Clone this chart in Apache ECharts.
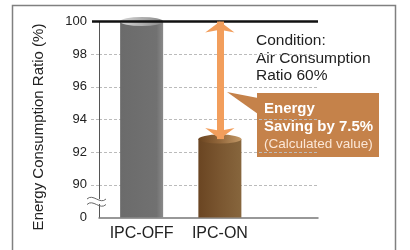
<!DOCTYPE html>
<html><head><meta charset="utf-8">
<script src="https://cdn.jsdelivr.net/npm/echarts@6/dist/echarts.min.js"></script>
<style>html,body{margin:0;padding:0;background:#fff}#c{width:410px;height:250px}</style>
</head><body><div id="c"></div>
<script>
// ---- data ----
const categories = ['IPC-OFF', 'IPC-ON'];
const ratioValues = [100, 92.8];
const yMin = 88, yMax = 100, yStep = 2;
const tickLabels = {88: '0', 90: '90', 92: '92', 94: '94', 96: '96', 98: '98', 100: '100'};
const referenceLevel = 100;
const yAxisTitle = 'Energy Consumption Ratio (%)';
const conditionText = ['Condition:', 'Air Consumption', 'Ratio 60%'];
const savingText = ['Energy', 'Saving by 7.5%', '(Calculated value)'];

// ---- styles ----
const FF = '"Liberation Sans", Arial, Helvetica, sans-serif';
const lg = (stops) => new echarts.graphic.LinearGradient(0, 0, 1, 0, stops.map((c) => ({offset: c[0], color: c[1]})));
const bodyColors = [
  lg([[0, '#6b6b6b'], [0.85, '#717171'], [1, '#8a8a8a']]),
  lg([[0, '#6a4522'], [0.5, '#7a5630'], [1, '#87663d']])
];
const capColors = [
  lg([[0, '#d6d6d6'], [0.6, '#a8a8a8'], [1, '#8a8a8a']]),
  lg([[0, '#6a4420'], [0.5, '#93683c'], [1, '#c49a68']])
];
const dash = [3, 2];
const tilde = (y) => ({type: 'bezierCurve', z: 101,
  shape: {x1: 87, y1: y, x2: 106, y2: y, cpx1: 93, cpy1: y - 6, cpx2: 100, cpy2: y + 6},
  style: {fill: 'none', stroke: '#666', lineWidth: 1}});

const chart = echarts.init(document.getElementById('c'), null, {renderer: 'canvas'});
chart.setOption({
  animation: false,
  grid: [
    {left: 99, top: 21.5, width: 219, height: 196},
    {left: 102.5, top: 21.5, width: 156.5, height: 196}
  ],
  xAxis: [
    {gridIndex: 0, type: 'value', min: 0, max: 1,
     axisLine: {show: true, onZero: false, lineStyle: {color: '#777', width: 1.5}},
     axisTick: {show: false}, axisLabel: {show: false}, splitLine: {show: false}},
    {gridIndex: 1, type: 'category', data: categories,
     axisLine: {show: false}, axisTick: {show: false},
     axisLabel: {interval: 0, fontSize: 16, color: '#222', margin: 8, fontFamily: FF}}
  ],
  yAxis: [
    {gridIndex: 0, type: 'value', min: yMin, max: yMax, interval: yStep,
     axisLine: {show: true, lineStyle: {color: '#555', width: 1}},
     axisTick: {show: true, length: 8, customValues: [90, 92, 94, 96, 98], lineStyle: {color: '#bbb', type: dash}},
     axisLabel: {formatter: v => tickLabels[v], fontSize: 13, color: '#222', margin: 12, fontFamily: FF},
     splitLine: {show: true, lineStyle: {color: '#bbb', type: dash}}},
    {gridIndex: 0, type: 'value', min: yMin, max: yMax, interval: yStep, position: 'left',
     axisLine: {show: false},
     axisTick: {show: true, length: 7, customValues: [referenceLevel], lineStyle: {color: '#111', width: 2.5}},
     axisLabel: {show: false}, splitLine: {show: false}},
    {gridIndex: 1, type: 'value', min: yMin, max: yMax, interval: yStep, show: false}
  ],
  series: [
    {type: 'line', xAxisIndex: 0, yAxisIndex: 0, data: [], z: 1,
     markLine: {silent: true, symbol: 'none', label: {show: false},
       lineStyle: {color: '#111', width: 2.5, type: 'solid'},
       data: [{yAxis: referenceLevel}]}},
    {type: 'bar', xAxisIndex: 1, yAxisIndex: 2, barWidth: 43, z: 2,
     data: ratioValues.map((v, i) => ({value: v, itemStyle: {color: bodyColors[i]}})),
     markLine: {silent: true, symbol: ['arrow', 'arrow'], symbolSize: [22, 11], label: {show: false},
       lineStyle: {color: '#f29e5c', width: 7, type: 'solid', opacity: 1},
       data: [[{coord: [categories[1], referenceLevel]}, {coord: [categories[1], ratioValues[1]]}]]}},
    {type: 'pictorialBar', xAxisIndex: 1, yAxisIndex: 2, symbol: 'circle', symbolSize: [43, 9],
     symbolPosition: 'end', symbolOffset: [0, '-50%'], z: 3,
     data: ratioValues.map((v, i) => ({value: v, itemStyle: {color: capColors[i]}}))}
  ],
  graphic: [
    {type: 'rect', silent: true, shape: {x: 12.5, y: 5.5, width: 383, height: 270},
     style: {fill: 'none', stroke: '#808080', lineWidth: 1.5}},
    {type: 'text', x: 39, y: 127, rotation: Math.PI / 2,
     style: {text: yAxisTitle, font: '15px ' + FF, fill: '#222', align: 'center', verticalAlign: 'middle'}},
    {type: 'rect', shape: {x: 95, y: 199, width: 8, height: 5}, style: {fill: '#fff'}, z: 100},
    tilde(199), tilde(204.5),
    {type: 'text', x: 256, y: 32,
     style: {text: conditionText.join('\n'), font: '15.5px ' + FF, lineHeight: 17.5, fill: '#222', align: 'left', verticalAlign: 'top'}},
    {type: 'polygon', shape: {points: [[227, 92], [258, 98], [258, 114]]}, style: {fill: '#c5824a'}},
    {type: 'rect', shape: {x: 257, y: 93, width: 122, height: 64}, style: {fill: '#c5824a'}},
    {type: 'text', x: 264, y: 109,
     style: {text: savingText[0], font: 'bold 15px ' + FF, fill: '#fff', align: 'left', verticalAlign: 'middle'}},
    {type: 'text', x: 264, y: 127,
     style: {text: savingText[1], font: 'bold 15px ' + FF, fill: '#fff', align: 'left', verticalAlign: 'middle'}},
    {type: 'text', x: 264, y: 144,
     style: {text: savingText[2], font: '13.5px ' + FF, fill: '#fbe6d6', align: 'left', verticalAlign: 'middle'}}
  ]
});
</script>
</body></html>
